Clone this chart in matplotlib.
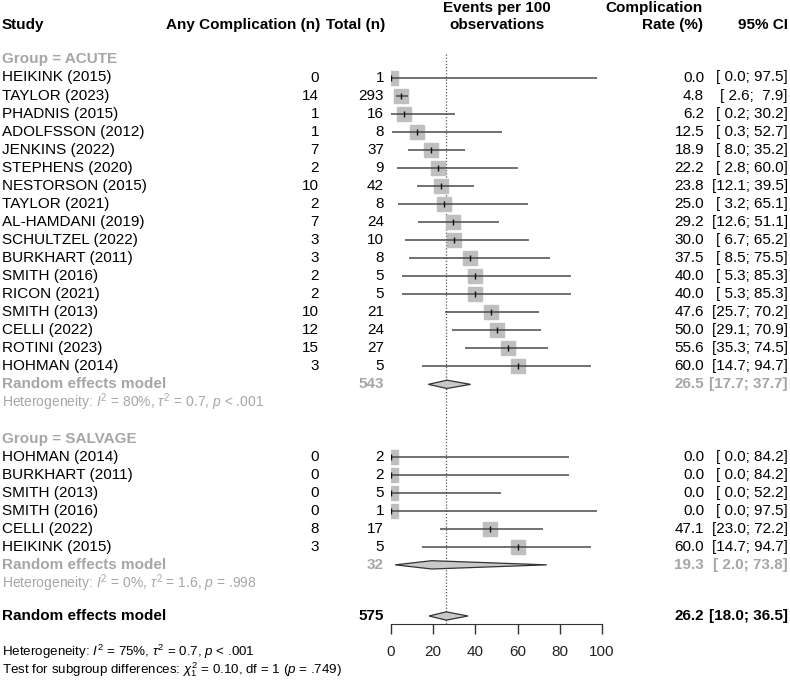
import matplotlib
matplotlib.use("Agg")
import matplotlib.pyplot as plt
from matplotlib.transforms import blended_transform_factory

plt.rcParams["font.family"] = ["Liberation Sans", "DejaVu Sans"]
plt.rcParams["mathtext.fontset"] = "custom"
plt.rcParams["mathtext.rm"] = "Liberation Sans"
plt.rcParams["mathtext.it"] = "Liberation Sans:italic"
plt.rcParams["mathtext.bf"] = "Liberation Sans:bold"

# --- data ---
acute_studies = ["HEIKINK (2015)", "TAYLOR (2023)", "PHADNIS (2015)", "ADOLFSSON (2012)",
                 "JENKINS (2022)", "STEPHENS (2020)", "NESTORSON (2015)", "TAYLOR (2021)",
                 "AL-HAMDANI (2019)", "SCHULTZEL (2022)", "BURKHART (2011)", "SMITH (2016)",
                 "RICON (2021)", "SMITH (2013)", "CELLI (2022)", "ROTINI (2023)", "HOHMAN (2014)"]
acute_events = [0, 14, 1, 1, 7, 2, 10, 2, 7, 3, 3, 2, 2, 10, 12, 15, 3]
acute_total = [1, 293, 16, 8, 37, 9, 42, 8, 24, 10, 8, 5, 5, 21, 24, 27, 5]
acute_rate = [0.0, 4.8, 6.2, 12.5, 18.9, 22.2, 23.8, 25.0, 29.2, 30.0, 37.5, 40.0, 40.0, 47.6, 50.0, 55.6, 60.0]
acute_lo = [0.0, 2.6, 0.2, 0.3, 8.0, 2.8, 12.1, 3.2, 12.6, 6.7, 8.5, 5.3, 5.3, 25.7, 29.1, 35.3, 14.7]
acute_hi = [97.5, 7.9, 30.2, 52.7, 35.2, 60.0, 39.5, 65.1, 51.1, 65.2, 75.5, 85.3, 85.3, 70.2, 70.9, 74.5, 94.7]
acute_re = (543, 26.5, 17.7, 37.7)
acute_het = r"Heterogeneity: $I^2$ = 80%, $\tau^2$ = 0.7, $p$ < .001"

salv_studies = ["HOHMAN (2014)", "BURKHART (2011)", "SMITH (2013)", "SMITH (2016)",
                "CELLI (2022)", "HEIKINK (2015)"]
salv_events = [0, 0, 0, 0, 8, 3]
salv_total = [2, 2, 5, 1, 17, 5]
salv_rate = [0.0, 0.0, 0.0, 0.0, 47.1, 60.0]
salv_lo = [0.0, 0.0, 0.0, 0.0, 23.0, 14.7]
salv_hi = [84.2, 84.2, 52.2, 97.5, 72.2, 94.7]
salv_re = (32, 19.3, 2.0, 73.8)
salv_het = r"Heterogeneity: $I^2$ = 0%, $\tau^2$ = 1.6, $p$ = .998"

overall_re = (575, 26.2, 18.0, 36.5)
overall_het = r"Heterogeneity: $I^2$ = 75%, $\tau^2$ = 0.7, $p$ < .001"
subgroup_test = r"Test for subgroup differences: $\chi^2_1$ = 0.10, df = 1 ($p$ = .749)"

xticks = [0, 20, 40, 60, 80, 100]

# --- layout (pixels) ---
W, H = 790, 681
ROW0, ROWH = 77.5, 18.05
AXIS_Y = 624
GRAY = "#a6a6a6"
FS = 11


def r_of(px):
    return (px - ROW0) / ROWH


fig = plt.figure(figsize=(W / 100, H / 100), dpi=100)
ax = fig.add_axes([391 / W, (H - AXIS_Y) / H, 211 / W, AXIS_Y / H])
ax.set_xlim(0, 100)
ax.set_ylim(r_of(AXIS_Y), r_of(0))
for s in ["top", "left", "right"]:
    ax.spines[s].set_visible(False)
ax.spines["bottom"].set_color("#333333")
ax.set_yticks([])
ax.set_xticks(xticks)
ax.tick_params(axis="x", direction="out", length=7, width=1, color="#333333",
               labelsize=FS, pad=8, labelcolor="#222222")

tr = blended_transform_factory(fig.transFigure, ax.transData)


def col(px, y, s, ha="right", **kw):
    kw.setdefault("fontsize", FS)
    ax.text(px / W, y, s, transform=tr, ha=ha, va="center", clip_on=False, **kw)


def ci_text(lo, hi):
    return f"[{lo:4.1f}; {hi:4.1f}]"


def diamond(y, est, lo, hi):
    h = 0.23
    ax.fill([lo, est, hi, est], [y, y - h, y, y + h], facecolor="#c8c8c8",
            edgecolor="#333333", linewidth=0.9, zorder=3)


def study_rows(y0, names, ev, tot, rate, lo, hi):
    ys = [y0 + i for i in range(len(names))]
    ax.plot(rate, ys, "s", color="#bfbfbf", markersize=9.5, zorder=2)
    ax.hlines(ys, lo, hi, color="#4a4a4a", linewidth=1.1, zorder=3)
    ax.plot(rate, ys, "|", color="#111111", markersize=4, markeredgewidth=1, zorder=4)
    for y, n, e, t, r, l, h in zip(ys, names, ev, tot, rate, lo, hi):
        col(2, y, n, ha="left")
        col(319, y, str(e))
        col(384, y, str(t))
        col(704, y, f"{r:.1f}")
        col(788, y, ci_text(l, h))


def re_rows(y, re, color):
    n, est, lo, hi = re
    col(2, y, "Random effects model", ha="left", color=color, fontweight="bold")
    col(384, y, str(n), color=color, fontweight="bold")
    col(704, y, f"{est:.1f}", color=color, fontweight="bold")
    col(788, y, ci_text(lo, hi), color=color, fontweight="bold")
    diamond(y, est, lo, hi)


# header
hy1, hy2 = r_of(25), r_of(8)
col(2, hy1, "Study", ha="left", fontweight="bold")
col(320, hy1, "Any Complication (n)", fontweight="bold")
col(385, hy1, "Total (n)", fontweight="bold")
col(497, hy2, "Events per 100", ha="center", fontweight="bold")
col(497, hy1, "observations", ha="center", fontweight="bold")
col(703, hy2, "Complication", fontweight="bold")
col(703, hy1, "Rate (%)", fontweight="bold")
col(788, hy1, "95% CI", fontweight="bold")

# reference line at overall estimate
ax.vlines(overall_re[1], r_of(AXIS_Y), r_of(52), color="#555555", linewidth=0.9,
          linestyles=(0, (1, 1.5)), zorder=1)

# group ACUTE
col(2, -1, "Group = ACUTE", ha="left", color=GRAY, fontweight="bold")
study_rows(0, acute_studies, acute_events, acute_total, acute_rate, acute_lo, acute_hi)
re_rows(17, acute_re, GRAY)
col(2, 18, acute_het, ha="left", color=GRAY, fontsize=10)

# group SALVAGE
col(2, 20, "Group = SALVAGE", ha="left", color=GRAY, fontweight="bold")
study_rows(21, salv_studies, salv_events, salv_total, salv_rate, salv_lo, salv_hi)
re_rows(27, salv_re, GRAY)
col(2, 28, salv_het, ha="left", color=GRAY, fontsize=10)

# overall
re_rows(r_of(616), overall_re, "black")
col(2, r_of(652), overall_het, ha="left", fontsize=9.6)
col(2, r_of(670), subgroup_test, ha="left", fontsize=9.6)

fig.savefig("out.png", dpi=100)
